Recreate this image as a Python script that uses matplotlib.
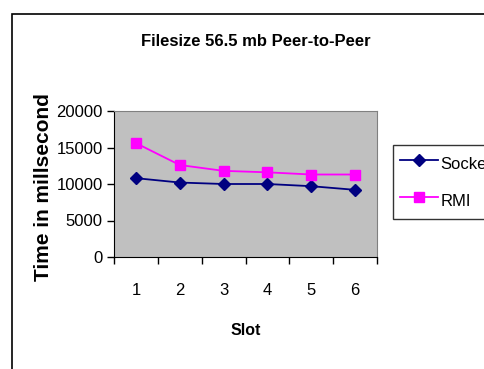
import matplotlib
matplotlib.use("Agg")
import matplotlib.pyplot as plt
from matplotlib.patches import Rectangle

plt.rcParams["font.family"] = ["Liberation Sans", "DejaVu Sans"]

slots = [1, 2, 3, 4, 5, 6]
socket_ms = [10800, 10200, 10000, 10000, 9700, 9200]
rmi_ms = [15600, 12600, 11800, 11600, 11300, 11300]
y_ticks = [0, 5000, 10000, 15000, 20000]

W, H = 484, 369
fig = plt.figure(figsize=(W / 100, H / 100), dpi=100, facecolor="white")

# outer chart frame, running off the right and bottom edges
fig.patches.append(Rectangle((12 / W, -0.1), 1.2, 1 - 14 / H + 0.1,
                             transform=fig.transFigure, fill=False,
                             edgecolor="black", linewidth=1.2))

ax = fig.add_axes([114 / W, 1 - 257 / H, 263 / W, 146 / H])
ax.set_facecolor("#C0C0C0")

ax.plot(slots, socket_ms, color="#000080", marker="D", markersize=6.5,
        linewidth=1.3, label="Socket")
ax.plot(slots, rmi_ms, color="#FF00FF", marker="s", markersize=7,
        linewidth=1.3, label="RMI")

ax.set_xlim(0.5, 6.5)
ax.set_ylim(0, 20000)
ax.set_yticks(y_ticks)
ax.set_yticklabels([str(v) for v in y_ticks], fontsize=12)

# category ticks sit on the boundaries, labels in the middle
ax.set_xticks([s - 0.5 for s in slots] + [slots[-1] + 0.5])
ax.set_xticklabels([])
ax.set_xticks(slots, minor=True)
ax.set_xticklabels([str(s) for s in slots], minor=True, fontsize=12)
ax.tick_params(axis="x", which="major", direction="out", length=5, width=1)
ax.tick_params(axis="x", which="minor", length=0, pad=19)
ax.tick_params(axis="y", direction="out", length=5, width=1, pad=3)

for side in ("top", "right"):
    ax.spines[side].set_color("#808080")
for side in ("left", "bottom"):
    ax.spines[side].set_color("black")

ax.set_xlabel("Slot", fontsize=11.5, fontweight="bold", labelpad=18)
ax.set_ylabel("Time in millsecond", fontsize=15, fontweight="bold")
ax.yaxis.set_label_coords(53 / W, 1 - 187 / H, transform=fig.transFigure)

fig.text(256 / W, 1 - 42 / H, "Filesize 56.5 mb Peer-to-Peer",
         ha="center", va="center", fontsize=12, fontweight="bold")

leg = fig.legend(loc="upper left", bbox_to_anchor=(393 / W, 1 - 145 / H),
                 bbox_transform=fig.transFigure, borderaxespad=0,
                 fontsize=12, handlelength=2.3, handleheight=1.9,
                 handletextpad=0.15, labelspacing=0.7, borderpad=0.4,
                 fancybox=False)
leg.get_frame().set_edgecolor("black")
leg.get_frame().set_linewidth(1.0)

fig.savefig("out.png", dpi=100, facecolor="white")
